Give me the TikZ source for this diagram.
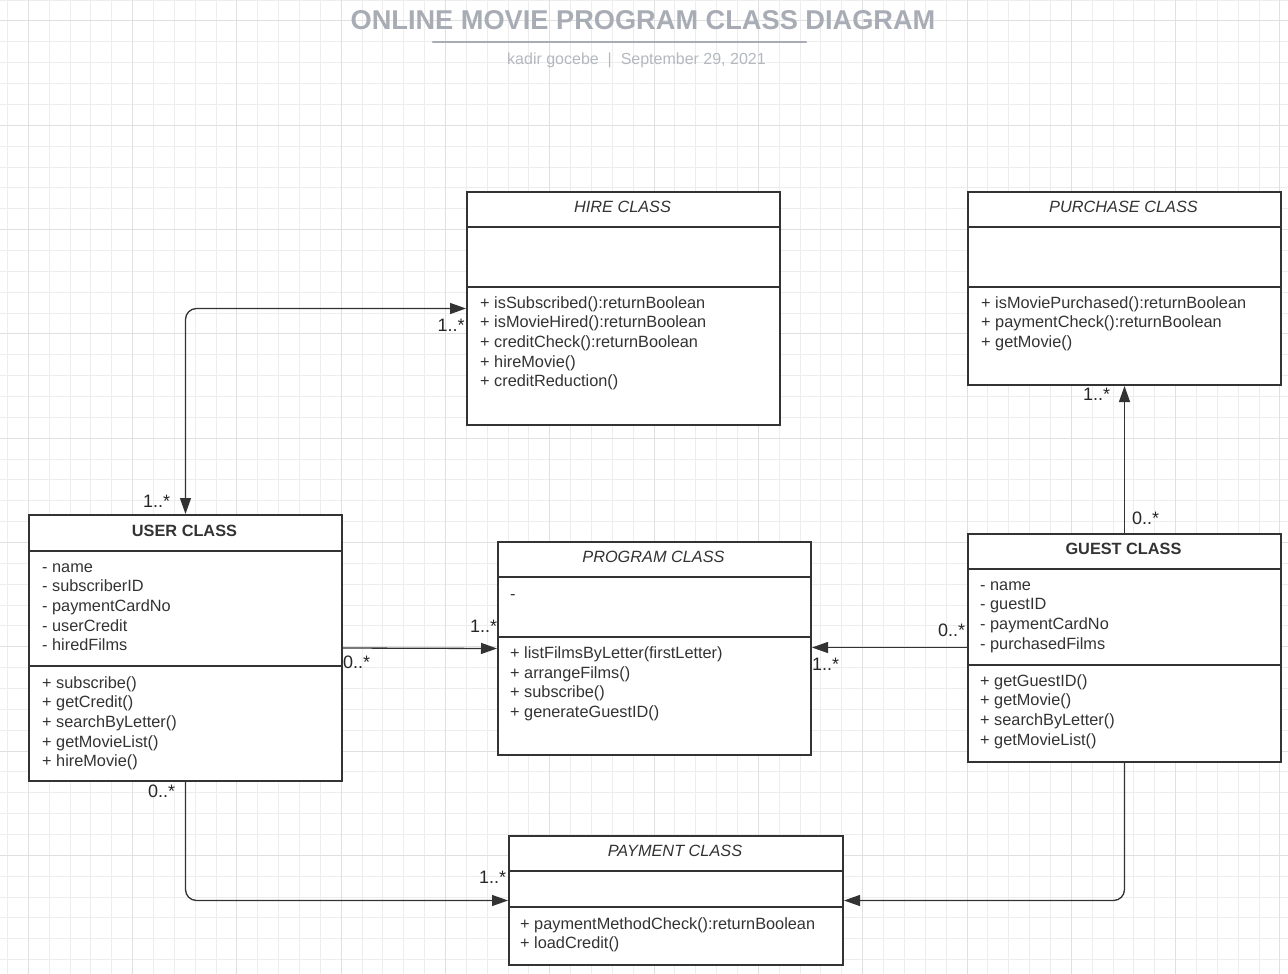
\documentclass[tikz,border=0pt]{standalone}
\usepackage{fontspec}
\setmainfont{Liberation Sans}
\usetikzlibrary{arrows.meta}
\definecolor{gridminor}{HTML}{EDEDED}
\definecolor{gridmajor}{HTML}{E0E0E0}
\definecolor{ink}{HTML}{333333}
\definecolor{titlegrey}{HTML}{A8ADB5}
\definecolor{subgrey}{HTML}{B4B8BF}
\begin{document}
\begin{tikzpicture}[x=1pt,y=-1pt,
 classbox/.style={draw=ink, line width=2pt, fill=white, anchor=north west, inner sep=0pt},
 sepline/.style={draw=ink, line width=2pt},
 txt/.style={text=ink, font=\fontsize{16.3}{19.7}\selectfont, inner sep=0pt},
 lbl/.style={text=black!85, font=\fontsize{18}{20}\selectfont, inner sep=0pt, anchor=base west},
 conn/.style={draw=ink, line width=1.3pt, rounded corners=11pt},
 tip/.style={-{Triangle[length=16pt,width=11pt]}},
 bothtips/.style={{Triangle[length=16pt,width=11pt]}-{Triangle[length=16pt,width=11pt]}}
]
\useasboundingbox (0,0) rectangle (1288,974);
\fill[white] (0,0) rectangle (1288,974);
% grid
\foreach \k in {0,...,61} \draw[gridminor, line width=1pt] ({7.44+20.86*\k},0) -- ({7.44+20.86*\k},974);
\foreach \k in {0,...,46} \draw[gridminor, line width=1pt] (0,{0.14+20.86*\k}) -- (1288,{0.14+20.86*\k});
\foreach \k in {0,...,12} \draw[gridmajor, line width=1pt] ({28.3+104.3*\k},0) -- ({28.3+104.3*\k},974);
\foreach \k in {0,...,8} \draw[gridmajor, line width=1pt] (0,{21+104.3*\k}) -- (1288,{21+104.3*\k});

% title
\node[font=\bfseries\fontsize{27.2}{30}\selectfont, text=titlegrey, anchor=base, inner sep=0pt] (title) at (643,29.5) {ONLINE MOVIE PROGRAM CLASS DIAGRAM};
\coordinate (ulA) at (433,42);
\coordinate (ulB) at (806,42);
\draw[titlegrey, line width=2.5pt, line cap=round] (ulA) -- (ulB);
\node[font=\fontsize{16}{18}\selectfont, text=subgrey, anchor=base, inner sep=0pt] (sub) at (636.5,64.5) {kadir gocebe\ \ |\ \ September 29, 2021};

% HIRE CLASS
\node[classbox, minimum width=313pt, minimum height=233pt] (hire) at (466,191) {};
\draw[sepline] (hire.west |- 0,227) -- (hire.east |- 0,227);
\draw[sepline] (hire.west |- 0,287) -- (hire.east |- 0,287);
\node[txt, font=\itshape\fontsize{16.3}{19.7}\selectfont, anchor=base] (hire-t) at (622.5,212) {HIRE CLASS};
\foreach \t [count=\i] in {+ isSubscribed():returnBoolean, + isMovieHired():returnBoolean, + creditCheck():returnBoolean, + hireMovie(), + creditReduction()}
  \node[txt, anchor=base west] (hire-m\i) at (480,{308+19.7*(\i-1)}) {\t};

% PURCHASE CLASS
\node[classbox, minimum width=313pt, minimum height=193pt] (purchase) at (967,191) {};
\draw[sepline] (purchase.west |- 0,227) -- (purchase.east |- 0,227);
\draw[sepline] (purchase.west |- 0,287) -- (purchase.east |- 0,287);
\node[txt, font=\itshape\fontsize{16.3}{19.7}\selectfont, anchor=base] (purchase-t) at (1123.5,212) {PURCHASE CLASS};
\foreach \t [count=\i] in {+ isMoviePurchased():returnBoolean, + paymentCheck():returnBoolean, + getMovie()}
  \node[txt, anchor=base west] (purchase-m\i) at (981,{308+19.7*(\i-1)}) {\t};

% USER CLASS
\node[classbox, minimum width=313pt, minimum height=266pt] (user) at (28,514) {};
\draw[sepline] (user.west |- 0,550.5) -- (user.east |- 0,550.5);
\draw[sepline] (user.west |- 0,666) -- (user.east |- 0,666);
\node[txt, font=\bfseries\fontsize{16.3}{19.7}\selectfont, anchor=base] (user-t) at (184.5,536) {USER CLASS};
\foreach \t [count=\i] in {- name, - subscriberID, - paymentCardNo, - userCredit, - hiredFilms}
  \node[txt, anchor=base west] (user-a\i) at (42,{572+19.7*(\i-1)}) {\t};
\foreach \t [count=\i] in {+ subscribe(), + getCredit(), + searchByLetter(), + getMovieList(), + hireMovie()}
  \node[txt, anchor=base west] (user-m\i) at (42,{688+19.7*(\i-1)}) {\t};

% PROGRAM CLASS
\node[classbox, minimum width=313pt, minimum height=213pt] (program) at (497,541) {};
\draw[sepline] (program.west |- 0,577) -- (program.east |- 0,577);
\draw[sepline] (program.west |- 0,636.5) -- (program.east |- 0,636.5);
\node[txt, font=\itshape\fontsize{16.3}{19.7}\selectfont, anchor=base] (program-t) at (653.5,562.5) {PROGRAM CLASS};
\node[txt, anchor=base west] (program-a1) at (510,599) {-};
\foreach \t [count=\i] in {+ listFilmsByLetter(firstLetter), + arrangeFilms(), + subscribe(), + generateGuestID()}
  \node[txt, anchor=base west] (program-m\i) at (510,{658.3+19.7*(\i-1)}) {\t};

% GUEST CLASS
\node[classbox, minimum width=313pt, minimum height=228pt] (guest) at (967,532.5) {};
\draw[sepline] (guest.west |- 0,569) -- (guest.east |- 0,569);
\draw[sepline] (guest.west |- 0,664.5) -- (guest.east |- 0,664.5);
\node[txt, font=\bfseries\fontsize{16.3}{19.7}\selectfont, anchor=base] (guest-t) at (1123.5,554.5) {GUEST CLASS};
\foreach \t [count=\i] in {- name, - guestID, - paymentCardNo, - purchasedFilms}
  \node[txt, anchor=base west] (guest-a\i) at (980,{590+19.7*(\i-1)}) {\t};
\foreach \t [count=\i] in {+ getGuestID(), + getMovie(), + searchByLetter(), + getMovieList()}
  \node[txt, anchor=base west] (guest-m\i) at (980,{686+19.7*(\i-1)}) {\t};

% PAYMENT CLASS
\node[classbox, minimum width=334pt, minimum height=129pt] (payment) at (508,835) {};
\draw[sepline] (payment.west |- 0,871) -- (payment.east |- 0,871);
\draw[sepline] (payment.west |- 0,907.3) -- (payment.east |- 0,907.3);
\node[txt, font=\itshape\fontsize{16.3}{19.7}\selectfont, anchor=base] (payment-t) at (675,856.5) {PAYMENT CLASS};
\foreach \t [count=\i] in {+ paymentMethodCheck():returnBoolean, + loadCredit()}
  \node[txt, anchor=base west] (payment-m\i) at (520,{929+19.7*(\i-1)}) {\t};

% connectors
\draw[conn, bothtips] (user.north) |- (hire.west);
\draw[conn, tip] (user.east) -- (program.west);
\draw[conn, tip] (guest.west) -- (program.east |- guest.west);
\draw[conn, tip] (guest.north) -- (purchase.south);
\draw[conn, tip] (user.south) |- (payment.west);
\draw[conn, tip] (guest.south) |- (payment.east);

% multiplicities
\node[lbl] (m1) at (437.5,331.5) {1..*};
\node[lbl] (m2) at (143,507) {1..*};
\node[lbl] (m3) at (343,668) {0..*};
\node[lbl] (m4) at (470,632) {1..*};
\node[lbl] (m5) at (938,636) {0..*};
\node[lbl] (m6) at (812,670) {1..*};
\node[lbl] (m7) at (1083,400) {1..*};
\node[lbl] (m8) at (1132,524.5) {0..*};
\node[lbl] (m9) at (148,797) {0..*};
\node[lbl] (m10) at (479,883.5) {1..*};
\end{tikzpicture}
\end{document}
